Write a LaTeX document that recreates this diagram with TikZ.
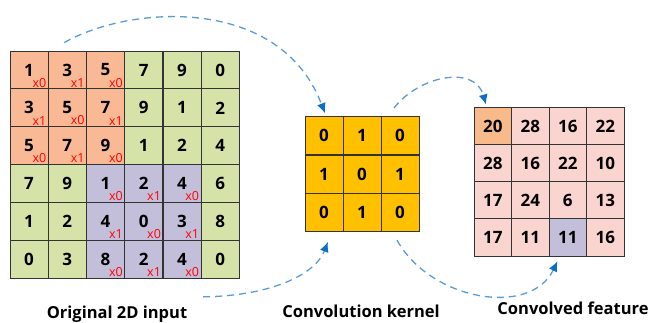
\documentclass[tikz,border=0pt]{standalone}
\usepackage{fontspec}
\setmainfont{Open Sans}
\usetikzlibrary{arrows.meta,positioning,calc}

\definecolor{inorange}{HTML}{F9B995}
\definecolor{ingreen}{HTML}{D6E3A8}
\definecolor{inpurple}{HTML}{C3BFDA}
\definecolor{kerngold}{HTML}{FFC000}
\definecolor{outpink}{HTML}{FAD4CE}
\definecolor{outorange}{HTML}{F9BA8B}
\definecolor{flowblue}{HTML}{5B9BD5}
\definecolor{tipblue}{HTML}{0B6FC6}

\begin{document}
\begin{tikzpicture}[x=1pt, y=-1pt,
    cell/.style={rectangle, draw=black!80, line width=0.8pt, minimum size=38pt, inner sep=0pt,
        font=\bfseries\fontsize{17}{17}\selectfont},
    wt/.style={anchor=south east, inner sep=0.5pt, text=red, font=\fontsize{12.5}{12.5}\selectfont},
    flow/.style={draw=flowblue, line width=1.3pt, dash pattern=on 7pt off 5pt,
        -{Latex[length=10pt,width=9pt,color=tipblue]}, shorten >=3pt},
    caption/.style={anchor=base, font=\bfseries\fontsize{16.5}{16.5}\selectfont}
]
    \useasboundingbox (0,0) rectangle (650,323);

    % input image
    \foreach \row [count=\r] in {{1,3,5,7,9,0},{3,5,7,9,1,2},{5,7,9,1,2,4},
                                 {7,9,1,2,4,6},{1,2,4,0,3,8},{0,3,8,2,4,0}} {
        \foreach \v [count=\c] in \row {
            \def\cfill{ingreen}
            \ifnum\r<4 \ifnum\c<4 \def\cfill{inorange}\fi\fi
            \ifnum\r>3 \ifnum\c>2 \ifnum\c<6 \def\cfill{inpurple}\fi\fi\fi
            \node[cell, fill=\cfill] (in-\r-\c) at ({10+38.2*(\c-0.5)}, {51+37.9*(\r-0.5)}) {\v};
        }
    }

    % kernel weights on the two windows
    \foreach \r in {1,2,3} {
        \foreach \c in {1,2,3} {
            \pgfmathtruncatemacro\w{mod(\r+\c,2)}
            \pgfmathtruncatemacro\rr{\r+3}
            \pgfmathtruncatemacro\cc{\c+2}
            \node[wt] (wa-\r-\c) at ([shift={(-1.5pt,1.5pt)}]in-\r-\c.south east) {x\w};
            \node[wt] (wb-\r-\c) at ([shift={(-1.5pt,1.5pt)}]in-\rr-\cc.south east) {x\w};
        }
    }

    % kernel
    \foreach \row [count=\r] in {{0,1,0},{1,0,1},{0,1,0}} {
        \foreach \v [count=\c] in \row {
            \node[cell, fill=kerngold] (k-\r-\c) at ({305+38*(\c-0.5)}, {116+38.7*(\r-0.5)}) {\v};
        }
    }

    % feature map
    \foreach \row [count=\r] in {{20,28,16,22},{28,16,22,10},{17,24,6,13},{17,11,11,16}} {
        \foreach \v [count=\c] in \row {
            \def\cfill{outpink}
            \ifnum\r=1 \ifnum\c=1 \def\cfill{outorange}\fi\fi
            \ifnum\r=4 \ifnum\c=3 \def\cfill{inpurple}\fi\fi
            \node[cell, minimum size=37.5pt, fill=\cfill] (out-\r-\c) at ({474+37.5*(\c-0.5)}, {108+37*(\r-0.5)}) {\v};
        }
    }

    % arrows
    \draw[flow] ([xshift=-3pt,yshift=8pt]in-1-2.north) .. controls (130,5) and (280,-5) .. ([xshift=2pt]k-1-1.north);
    \draw[flow] ([xshift=-6pt,yshift=8pt]k-1-3.north) .. controls (420,75) and (475,65) .. ([xshift=-6pt]out-1-1.north);
    \coordinate (tail) at ([xshift=-17pt,yshift=-18pt]in-6-6.south);
    \draw[flow] (tail) .. controls (270,296) and (315,275) .. ([xshift=5pt,yshift=-7pt]k-3-1.south);
    \draw[flow] ([xshift=-3pt,yshift=-8pt]k-3-3.south) .. controls (430,300) and (530,318) .. ([xshift=-9pt,yshift=-2pt]out-4-3.south);

    % captions
    \node[caption] (cap-in) at (117,318.5) {Original 2D input};
    \node[caption] (cap-k) at (361,317) {Convolution kernel};
    \node[caption] (cap-out) at (573,314) {Convolved feature};
\end{tikzpicture}
\end{document}
